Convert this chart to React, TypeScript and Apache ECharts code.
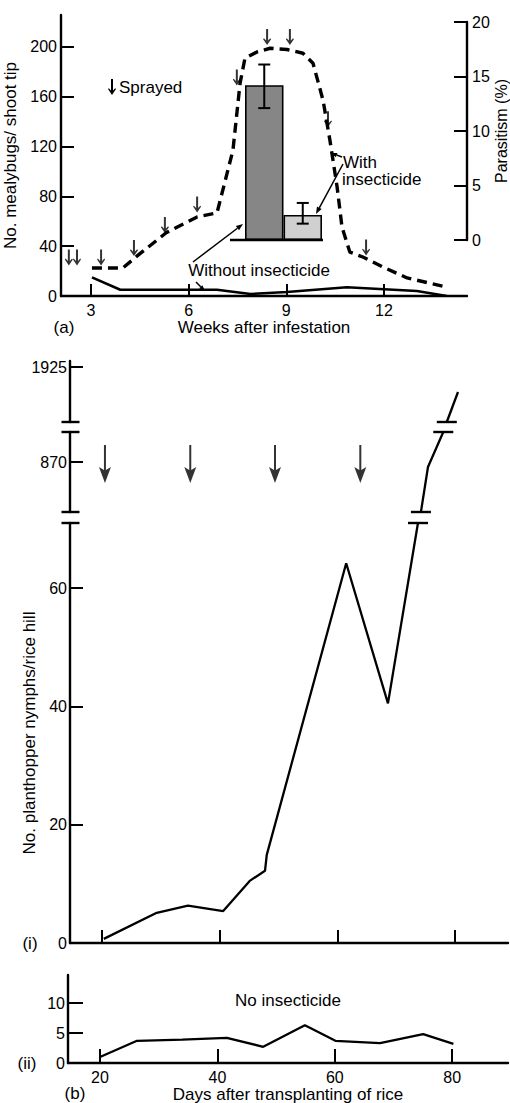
import React, { useEffect, useRef } from "react";
import * as echarts from "echarts";

const FONT = "'Liberation Sans', Arial, Helvetica, sans-serif";
const INK = "#000";

// (a) Mealybugs per shoot tip against weeks after infestation
const weeksWithInsecticide = [3.03, 3.98, 4.41, 5.3, 6.26, 6.87, 7.36, 7.58, 7.73, 8.1, 8.5, 9.02, 9.51, 9.82, 10.13, 10.34, 10.56, 10.71, 10.95, 11.35, 11.97, 12.71, 13.93];
const mealybugsWithInsecticide = [22.5, 22.5, 32, 50.6, 63.5, 66.7, 117, 171, 191, 196, 199, 198, 195, 187, 157, 125, 87.6, 55.4, 35.3, 31.3, 23.3, 14.5, 7.2];
const weeksWithoutInsecticide = [3.03, 3.9, 6.87, 7.9, 9.02, 10.86, 13.01, 13.93];
const mealybugsWithoutInsecticide = [15, 5, 5, 1.6, 3.2, 7, 4, 0];
const sprayWeeks = [2.32, 2.57, 3.31, 4.32, 5.27, 6.26, 7.48, 8.41, 9.11, 10.28, 11.45];
const sprayMarkHeights = [31, 31, 31, 38.5, 57, 73.5, 175.5, 208, 208, 142, 39];
const mealybugTicks = [0, 40, 80, 120, 160, 200];
const weekTicks = [3, 6, 9, 12];

// (a) inset: parasitism with and without insecticide
const parasitismGroups = ["Without insecticide", "With insecticide"];
const parasitismMean = [14.2, 2.3];
const parasitismLow = [12.1, 1.5];
const parasitismHigh = [16.1, 3.4];
const parasitismTicks = [0, 5, 10, 15, 20];
const parasitismColors = ["#868686", "#d0d0d0"];

// (b)(i) planthopper nymphs per rice hill, sprayed plots (broken axis in three bands)
const daysLow = [20.3, 29.3, 34.6, 40.6, 45.1, 47.7, 48.0, 61.5, 68.6, 73.7];
const nymphsLow = [0.7, 5.1, 6.3, 5.4, 10.5, 12.2, 14.9, 64.2, 40.5, 71];
const daysMid = [74.2, 75.4, 78.0];
const nymphsMid = [620, 845, 1020];
const daysTop = [78.6, 80.5];
const nymphsTop = [1100, 1550];
const sprayDays = [20.5, 35, 49.4, 63.9];
const lowTicks = [0, 20, 40, 60];
const midTicks = [870];
const topTicks = [1925];
const dayTicks = [20, 40, 60, 80];

// (b)(ii) planthopper nymphs per rice hill, no insecticide
const daysNone = [20, 26.3, 34, 41.6, 47.8, 54.9, 60.1, 67.7, 75.05, 80.2];
const nymphsNone = [1.0, 3.7, 3.9, 4.2, 2.7, 6.3, 3.7, 3.3, 4.8, 3.2];
const noneTicks = [0, 5, 10];

const SMALL_ARROW_PTS = [[3, 0], [5, 0], [5, 11.5], [7.2, 9.2], [8, 10.1], [4, 16], [0, 10.1], [0.8, 9.2], [3, 11.5]];
const SMALL_ARROW = "path://M" + SMALL_ARROW_PTS.map((p) => p.join(",")).join(" L") + " Z";
const BIG_ARROW = "path://M5,0 L7,0 L7,25 L12,22 L6,38 L0,22 L5,25 Z";

const zip = (xs: number[], ys: number[]) => xs.map((x, i) => [x, ys[i]]);
const last = (a: number[]) => a[a.length - 1];

const grids = {
  a: { left: 61, top: 15, width: 406, height: 281 },
  inset: { left: 245, top: 22, width: 77, height: 218 },
  bTop: { left: 70, top: 361, width: 438, height: 61 },
  bMid: { left: 70, top: 432, width: 438, height: 80 },
  bLow: { left: 70, top: 523, width: 438, height: 420 },
  bNone: { left: 68, top: 975, width: 440, height: 88 },
};

const axisLine = { show: true, lineStyle: { color: INK, width: 2.4 } };
const tickLine = { color: INK, width: 2 };
const labelText = { color: INK, fontSize: 16, fontFamily: FONT };
const nameText = { color: INK, fontSize: 17, fontFamily: FONT };

function valueAxis(extra: any) {
  return { type: "value", splitLine: { show: false }, axisLine, ...extra };
}

function ticks(values: number[], length: number) {
  return { show: true, inside: true, length, lineStyle: tickLine, customValues: values };
}

function labels(values: number[], margin: number) {
  return { show: true, ...labelText, margin, customValues: values, formatter: (v: number) => String(v) };
}

function arrow(x1: number, y1: number, x2: number, y2: number, head = 7) {
  const a = Math.atan2(y2 - y1, x2 - x1);
  const hx = x2 - head * Math.cos(a);
  const hy = y2 - head * Math.sin(a);
  const nx = -Math.sin(a) * head * 0.38;
  const ny = Math.cos(a) * head * 0.38;
  return [
    { type: "line", z: 100, shape: { x1, y1, x2: hx, y2: hy }, style: { stroke: INK, lineWidth: 1.5 } },
    { type: "polygon", z: 100, shape: { points: [[x2, y2], [hx + nx, hy + ny], [hx - nx, hy - ny]] }, style: { fill: INK } },
  ];
}

function text(str: string, x: number, y: number, align = "center", size = 17) {
  return {
    type: "text",
    z: 100,
    x,
    y,
    style: {
      text: str,
      fill: INK,
      fontSize: size,
      fontFamily: FONT,
      textAlign: align,
      align,
      textVerticalAlign: "middle",
      verticalAlign: "middle",
    },
  };
}

function breakBar(cx: number, y: number, half: number) {
  return { type: "line", z: 100, shape: { x1: cx - half, y1: y, x2: cx + half, y2: y }, style: { stroke: INK, lineWidth: 2.4 } };
}

export default function App() {
  const ref = useRef<HTMLDivElement>(null);

  useEffect(() => {
    if (!ref.current) return;
    const chart = echarts.init(ref.current, null, { renderer: "svg" });

    const option: any = {
      animation: false,
      backgroundColor: "#fff",
      textStyle: { fontFamily: FONT, color: INK },
      grid: [grids.a, grids.inset, grids.bTop, grids.bMid, grids.bLow, grids.bNone].map((g) => ({
        ...g,
        containLabel: false,
        outerBoundsMode: "none",
      })),
      xAxis: [
        valueAxis({
          gridIndex: 0,
          min: 2.079,
          max: 14.55,
          axisTick: ticks(weekTicks, 12),
          axisLabel: labels(weekTicks, 6),
          name: "Weeks after infestation",
          nameLocation: "middle",
          nameGap: 22,
          nameTextStyle: nameText,
        }),
        { type: "category", gridIndex: 1, data: parasitismGroups, show: false },
        valueAxis({ gridIndex: 2, min: 14.56, max: 89, show: false }),
        valueAxis({ gridIndex: 3, min: 14.56, max: 89, show: false }),
        valueAxis({
          gridIndex: 4,
          min: 14.56,
          max: 89,
          axisTick: ticks(dayTicks, 13),
          axisLabel: { show: false },
        }),
        valueAxis({
          gridIndex: 5,
          min: 14.55,
          max: 89.5,
          axisTick: ticks(dayTicks, 14),
          axisLabel: labels(dayTicks, 6),
          name: "Days after transplanting of rice",
          nameLocation: "middle",
          nameGap: 22,
          nameTextStyle: nameText,
        }),
      ],
      yAxis: [
        valueAxis({
          gridIndex: 0,
          min: 0,
          max: 225.7,
          axisTick: ticks(mealybugTicks, 13),
          axisLabel: labels(mealybugTicks, 4),
          name: "No. mealybugs/ shoot tip",
          nameLocation: "middle",
          nameGap: 37,
          nameTextStyle: nameText,
        }),
        valueAxis({
          gridIndex: 1,
          position: "right",
          offset: 145,
          min: 0,
          max: 20,
          axisTick: ticks(parasitismTicks, 13),
          axisLabel: labels(parasitismTicks, 5),
          name: "Parasitism (%)",
          nameLocation: "middle",
          nameGap: 26,
          nameTextStyle: { ...nameText, fontSize: 16 },
        }),
        valueAxis({
          gridIndex: 2,
          min: 1100,
          max: 2015,
          axisTick: ticks(topTicks, 13),
          axisLabel: labels(topTicks, 3),
        }),
        valueAxis({
          gridIndex: 3,
          min: 620,
          max: 1020,
          axisTick: ticks(midTicks, 13),
          axisLabel: labels(midTicks, 3),
        }),
        valueAxis({
          gridIndex: 4,
          min: 0,
          max: 71,
          axisTick: ticks(lowTicks, 13),
          axisLabel: labels(lowTicks, 3),
          name: "No. planthopper nymphs/rice hill",
          nameLocation: "middle",
          nameGap: 30,
          nameTextStyle: nameText,
        }),
        valueAxis({
          gridIndex: 5,
          min: 0,
          max: 14.67,
          axisTick: ticks(noneTicks, 15),
          axisLabel: labels(noneTicks, 3),
        }),
      ],
      series: [
        {
          name: "With insecticide",
          type: "line",
          xAxisIndex: 0,
          yAxisIndex: 0,
          data: zip(weeksWithInsecticide, mealybugsWithInsecticide),
          symbol: "none",
          lineStyle: { color: INK, width: 3.4, type: [10, 6] },
        },
        {
          name: "Without insecticide",
          type: "line",
          xAxisIndex: 0,
          yAxisIndex: 0,
          data: zip(weeksWithoutInsecticide, mealybugsWithoutInsecticide),
          symbol: "none",
          lineStyle: { color: INK, width: 2.6 },
        },
        {
          name: "Sprayed",
          type: "scatter",
          xAxisIndex: 0,
          yAxisIndex: 0,
          data: zip(sprayWeeks, sprayMarkHeights),
          symbol: SMALL_ARROW,
          symbolSize: [8, 16],
          itemStyle: { color: INK },
        },
        {
          name: "Parasitism",
          type: "bar",
          xAxisIndex: 1,
          yAxisIndex: 1,
          barCategoryGap: "0%",
          z: 2,
          data: parasitismMean.map((v, i) => ({ value: v, itemStyle: { color: parasitismColors[i] } })),
          itemStyle: { borderColor: INK, borderWidth: 1.6 },
        },
        {
          name: "Parasitism range",
          type: "custom",
          xAxisIndex: 1,
          yAxisIndex: 1,
          z: 10,
          data: parasitismGroups.map((_, i) => [i, parasitismLow[i], parasitismHigh[i]]),
          renderItem: (_params: any, api: any) => {
            const i = api.value(0);
            const lo = api.coord([i, api.value(1)]);
            const hi = api.coord([i, api.value(2)]);
            const half = 6;
            const st = { stroke: INK, lineWidth: 2 };
            return {
              type: "group",
              children: [
                { type: "line", shape: { x1: hi[0], y1: hi[1], x2: lo[0], y2: lo[1] }, style: st },
                { type: "line", shape: { x1: hi[0] - half, y1: hi[1], x2: hi[0] + half, y2: hi[1] }, style: st },
                { type: "line", shape: { x1: lo[0] - half, y1: lo[1], x2: lo[0] + half, y2: lo[1] }, style: st },
              ],
            };
          },
        },
        {
          type: "line",
          xAxisIndex: 2,
          yAxisIndex: 2,
          data: zip(daysTop, nymphsTop),
          symbol: "none",
          lineStyle: { color: INK, width: 2.3 },
        },
        {
          type: "line",
          xAxisIndex: 3,
          yAxisIndex: 3,
          data: zip(daysMid, nymphsMid),
          symbol: "none",
          lineStyle: { color: INK, width: 2.3 },
        },
        {
          type: "line",
          xAxisIndex: 4,
          yAxisIndex: 4,
          data: zip(daysLow, nymphsLow),
          symbol: "none",
          lineStyle: { color: INK, width: 2.3 },
        },
        {
          name: "Sprayed",
          type: "scatter",
          xAxisIndex: 3,
          yAxisIndex: 3,
          data: sprayDays.map((d) => [d, 860]),
          symbol: BIG_ARROW,
          symbolSize: [12, 38],
          itemStyle: { color: INK },
        },
        {
          name: "No insecticide",
          type: "line",
          xAxisIndex: 5,
          yAxisIndex: 5,
          data: zip(daysNone, nymphsNone),
          symbol: "none",
          lineStyle: { color: INK, width: 2.3 },
        },
      ],
    };

    chart.setOption(option);

    const px = (gridIndex: number, pt: number[]) => chart.convertToPixel({ gridIndex } as any, pt) as number[];
    const lowEnd = px(4, [last(daysLow), last(nymphsLow)]);
    const midStart = px(3, [daysMid[0], nymphsMid[0]]);
    const midEnd = px(3, [last(daysMid), last(nymphsMid)]);
    const topStart = px(2, [daysTop[0], nymphsTop[0]]);
    const axisX = grids.bLow.left + 0.5;
    const insetBase = px(1, [0, 0]);

    const graphic: any[] = [
      // axis breaks
      breakBar(axisX, grids.bTop.top + grids.bTop.height, 9),
      breakBar(axisX, grids.bMid.top, 9),
      breakBar(axisX, grids.bMid.top + grids.bMid.height, 9),
      breakBar(axisX, grids.bLow.top, 9),
      // breaks on the sprayed curve
      breakBar(lowEnd[0], lowEnd[1], 10),
      breakBar(midStart[0], midStart[1], 10),
      breakBar(midEnd[0], midEnd[1], 10),
      breakBar(topStart[0], topStart[1], 10),
      // inset base line
      {
        type: "line",
        z: 100,
        shape: { x1: grids.inset.left - 15, y1: insetBase[1], x2: grids.inset.left + grids.inset.width + 1, y2: insetBase[1] },
        style: { stroke: INK, lineWidth: 2.4 },
      },
      // "Sprayed" key
      {
        type: "polygon",
        z: 100,
        shape: { points: SMALL_ARROW_PTS.map(([x, y]) => [x + 108, y + 79]) },
        style: { fill: INK },
      },
      text("Sprayed", 119, 87, "left"),
      text("Without insecticide", 259, 270),
      ...arrow(193, 262, 243, 224),
      ...arrow(196, 282, 205, 291, 6),
      text("With", 343, 162, "left"),
      text("insecticide", 342, 179, "left"),
      ...arrow(342, 157, 331, 153, 6),
      ...arrow(343, 164, 316, 214),
      text("(a)", 64, 327),
      text("(b)", 75, 1093),
      text("(i)", 30, 943),
      text("(ii)", 27, 1063),
      text("No insecticide", 288, 1000),
    ];

    chart.setOption({ graphic });

    return () => chart.dispose();
  }, []);

  return (
    <div
      ref={ref}
      style={{ position: "absolute", left: 0, top: 0, width: 510, height: 1103, background: "#fff" }}
    />
  );
}
